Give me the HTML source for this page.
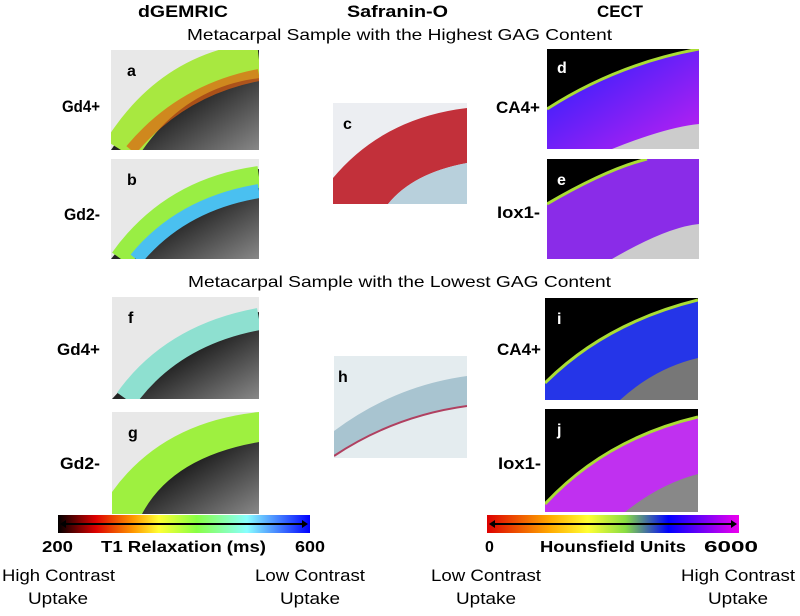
<!DOCTYPE html>
<html><head><meta charset="utf-8"><style>
body{margin:0;background:#fff;width:800px;height:611px;overflow:hidden;font-family:"Liberation Sans",sans-serif}
svg text{font-family:"Liberation Sans",sans-serif}
</style></head><body>
<svg width="800" height="611" viewBox="0 0 800 611">
<defs>
<linearGradient id="jet" x1="0" x2="1"><stop offset="0" stop-color="#000"/><stop offset=".15" stop-color="#d00"/><stop offset=".3" stop-color="#f90"/><stop offset=".4" stop-color="#ff3"/><stop offset=".55" stop-color="#8f4"/><stop offset=".75" stop-color="#8ff"/><stop offset="1" stop-color="#00f"/></linearGradient>
<linearGradient id="hu" x1="0" x2="1"><stop offset="0" stop-color="#d00"/><stop offset=".25" stop-color="#fa0"/><stop offset=".4" stop-color="#ff3"/><stop offset=".55" stop-color="#8d4"/><stop offset=".72" stop-color="#00f"/><stop offset="1" stop-color="#e0e"/></linearGradient>
<linearGradient id="grey" x1="0" y1="0" x2="1" y2="1"><stop offset="0" stop-color="#ccc"/><stop offset=".5" stop-color="#222"/><stop offset="1" stop-color="#888"/></linearGradient>
<linearGradient id="bp" x1="0" y1="0" x2="1" y2="1"><stop offset="0" stop-color="#2020ff"/><stop offset="1" stop-color="#c020f0"/></linearGradient>
</defs>
<g font-weight="bold" font-size="17" fill="#000">
<text x="138" y="17" textLength="90" lengthAdjust="spacingAndGlyphs">dGEMRIC</text>
<text x="347" y="17" textLength="101" lengthAdjust="spacingAndGlyphs">Safranin-O</text>
<text x="597" y="17" textLength="46" lengthAdjust="spacingAndGlyphs">CECT</text>
</g>
<text x="187" y="40" font-size="16" textLength="425" lengthAdjust="spacingAndGlyphs">Metacarpal Sample with the Highest GAG Content</text>
<text x="188" y="287" font-size="16" textLength="423" lengthAdjust="spacingAndGlyphs">Metacarpal Sample with the Lowest GAG Content</text>

<g><svg x="111" y="50" width="148" height="100"><rect width="148" height="100" fill="#e8e8e8"/><path d="M0 100 Q60 10 148 0 L148 100Z" fill="url(#grey)"/><path d="M10 100 Q60 20 148 10" stroke="#a8e840" stroke-width="36" fill="none"/><path d="M20 100 Q70 40 148 25" stroke="#e06010" stroke-width="12" fill="none" opacity=".7"/><text x="16" y="26" font-weight="bold" font-size="16">a</text></svg></g>
<g><svg x="111" y="159" width="148" height="100"><rect width="148" height="100" fill="#e8e8e8"/><path d="M0 100 Q60 25 148 10 L148 100Z" fill="url(#grey)"/><path d="M10 100 Q60 30 148 18" stroke="#9e4" stroke-width="22" fill="none"/><path d="M25 100 Q70 45 148 32" stroke="#4ac0f0" stroke-width="14" fill="none"/><text x="16" y="26" font-weight="bold" font-size="16">b</text></svg></g>
<g><svg x="112" y="297" width="147" height="102"><rect width="147" height="102" fill="#e8e8e8"/><path d="M0 102 Q60 35 147 15 L147 102Z" fill="url(#grey)"/><path d="M14 102 Q60 38 147 22" stroke="#8ee0d0" stroke-width="22" fill="none"/><text x="16" y="26" font-weight="bold" font-size="16">f</text></svg></g>
<g><svg x="112" y="412" width="147" height="102"><rect width="147" height="102" fill="#e8e8e8"/><path d="M0 102 Q60 30 147 10 L147 102Z" fill="url(#grey)"/><path d="M0 80 Q50 10 147 0 L147 30 Q60 45 30 102 L0 102Z" fill="#9ef040"/><text x="16" y="26" font-weight="bold" font-size="16">g</text></svg></g>

<g><svg x="333" y="103" width="134" height="101"><rect width="134" height="101" fill="#eceef2"/><path d="M0 75 Q50 15 134 5 L134 60 Q80 70 55 101 L0 101Z" fill="#c2303a"/><path d="M55 101 Q80 70 134 60 L134 101Z" fill="#b8d0dc"/><text x="10" y="26" font-weight="bold" font-size="16">c</text></svg></g>
<g><svg x="334" y="356" width="133" height="102"><rect width="133" height="102" fill="#e4ecef"/><path d="M0 75 Q60 30 133 20 L133 50 Q60 60 0 100Z" fill="#a8c4d0"/><path d="M0 100 Q60 60 133 50" stroke="#b04060" stroke-width="2" fill="none"/><text x="4" y="26" font-weight="bold" font-size="16">h</text></svg></g>

<g><svg x="547" y="49" width="152" height="100"><rect width="152" height="100" fill="#000"/><path d="M0 60 Q70 15 152 0 L152 100 L0 100Z" fill="url(#bp)"/><path d="M0 60 Q70 15 152 0" stroke="#ad3" stroke-width="3" fill="none"/><path d="M65 100 Q120 78 152 75 L152 100Z" fill="#ccc"/><text x="10" y="24" font-weight="bold" font-size="16" fill="#fff">d</text></svg></g>
<g><svg x="547" y="159" width="152" height="100"><rect width="152" height="100" fill="#000"/><path d="M0 45 Q60 10 100 0 L152 0 L152 100 L0 100Z" fill="#8a2ce8"/><path d="M0 45 Q60 10 100 0" stroke="#ad3" stroke-width="3" fill="none"/><path d="M65 100 Q120 68 152 65 L152 100Z" fill="#ccc"/><text x="10" y="26" font-weight="bold" font-size="16" fill="#fff">e</text></svg></g>
<g><svg x="545" y="298" width="153" height="102"><rect width="153" height="102" fill="#000"/><path d="M0 85 Q60 25 153 2 L153 102 L0 102Z" fill="#2535e8"/><path d="M0 85 Q60 25 153 2" stroke="#ad3" stroke-width="3" fill="none"/><path d="M75 102 Q110 70 153 60 L153 102Z" fill="#777"/><text x="12" y="26" font-weight="bold" font-size="16" fill="#fff">i</text></svg></g>
<g><svg x="545" y="409" width="153" height="103"><rect width="153" height="103" fill="#000"/><path d="M0 95 Q60 30 153 8 L153 103 L0 103Z" fill="#c030f0"/><path d="M0 95 Q60 30 153 8" stroke="#ad3" stroke-width="3" fill="none"/><path d="M80 103 Q115 75 153 65 L153 103Z" fill="#888"/><text x="12" y="26" font-weight="bold" font-size="16" fill="#fff">j</text></svg></g>

<g font-weight="bold" font-size="17" lengthAdjust="spacingAndGlyphs">
<text x="62" y="112" textLength="38" lengthAdjust="spacingAndGlyphs">Gd4+</text>
<text x="64" y="220" textLength="36" lengthAdjust="spacingAndGlyphs">Gd2-</text>
<text x="57" y="355" textLength="43" lengthAdjust="spacingAndGlyphs">Gd4+</text>
<text x="60" y="469" textLength="40" lengthAdjust="spacingAndGlyphs">Gd2-</text>
<text x="496" y="113" textLength="44" lengthAdjust="spacingAndGlyphs">CA4+</text>
<text x="497" y="218" textLength="43" lengthAdjust="spacingAndGlyphs">Iox1-</text>
<text x="497" y="355" textLength="44" lengthAdjust="spacingAndGlyphs">CA4+</text>
<text x="498" y="469" textLength="43" lengthAdjust="spacingAndGlyphs">Iox1-</text>
</g>

<g><rect x="58" y="515" width="252" height="18" fill="url(#jet)"/>
<line x1="62" y1="524" x2="306" y2="524" stroke="#000" stroke-width="2"/><path d="M60 524 l6 -4 v8z M308 524 l-6 -4 v8z" fill="#000"/></g>
<g><rect x="487" y="515" width="252" height="18" fill="url(#hu)"/>
<line x1="491" y1="524" x2="735" y2="524" stroke="#000" stroke-width="2"/><path d="M489 524 l6 -4 v8z M737 524 l-6 -4 v8z" fill="#000"/></g>
<g font-weight="bold" font-size="16">
<text x="42" y="552" textLength="31" lengthAdjust="spacingAndGlyphs">200</text>
<text x="101" y="552" textLength="165" lengthAdjust="spacingAndGlyphs">T1 Relaxation (ms)</text>
<text x="295" y="552" textLength="30" lengthAdjust="spacingAndGlyphs">600</text>
<text x="485" y="552">0</text>
<text x="540" y="552" textLength="146" lengthAdjust="spacingAndGlyphs">Hounsfield Units</text>
<text x="704" y="552" textLength="54" lengthAdjust="spacingAndGlyphs">6000</text>
</g>
<g font-size="17">
<text x="2" y="581" textLength="113" lengthAdjust="spacingAndGlyphs">High Contrast</text>
<text x="28" y="604" textLength="60" lengthAdjust="spacingAndGlyphs">Uptake</text>
<text x="255" y="581" textLength="110" lengthAdjust="spacingAndGlyphs">Low Contrast</text>
<text x="280" y="604" textLength="60" lengthAdjust="spacingAndGlyphs">Uptake</text>
<text x="431" y="581" textLength="110" lengthAdjust="spacingAndGlyphs">Low Contrast</text>
<text x="456" y="604" textLength="60" lengthAdjust="spacingAndGlyphs">Uptake</text>
<text x="681" y="581" textLength="114" lengthAdjust="spacingAndGlyphs">High Contrast</text>
<text x="708" y="604" textLength="60" lengthAdjust="spacingAndGlyphs">Uptake</text>
</g>
</svg>
</body></html>
